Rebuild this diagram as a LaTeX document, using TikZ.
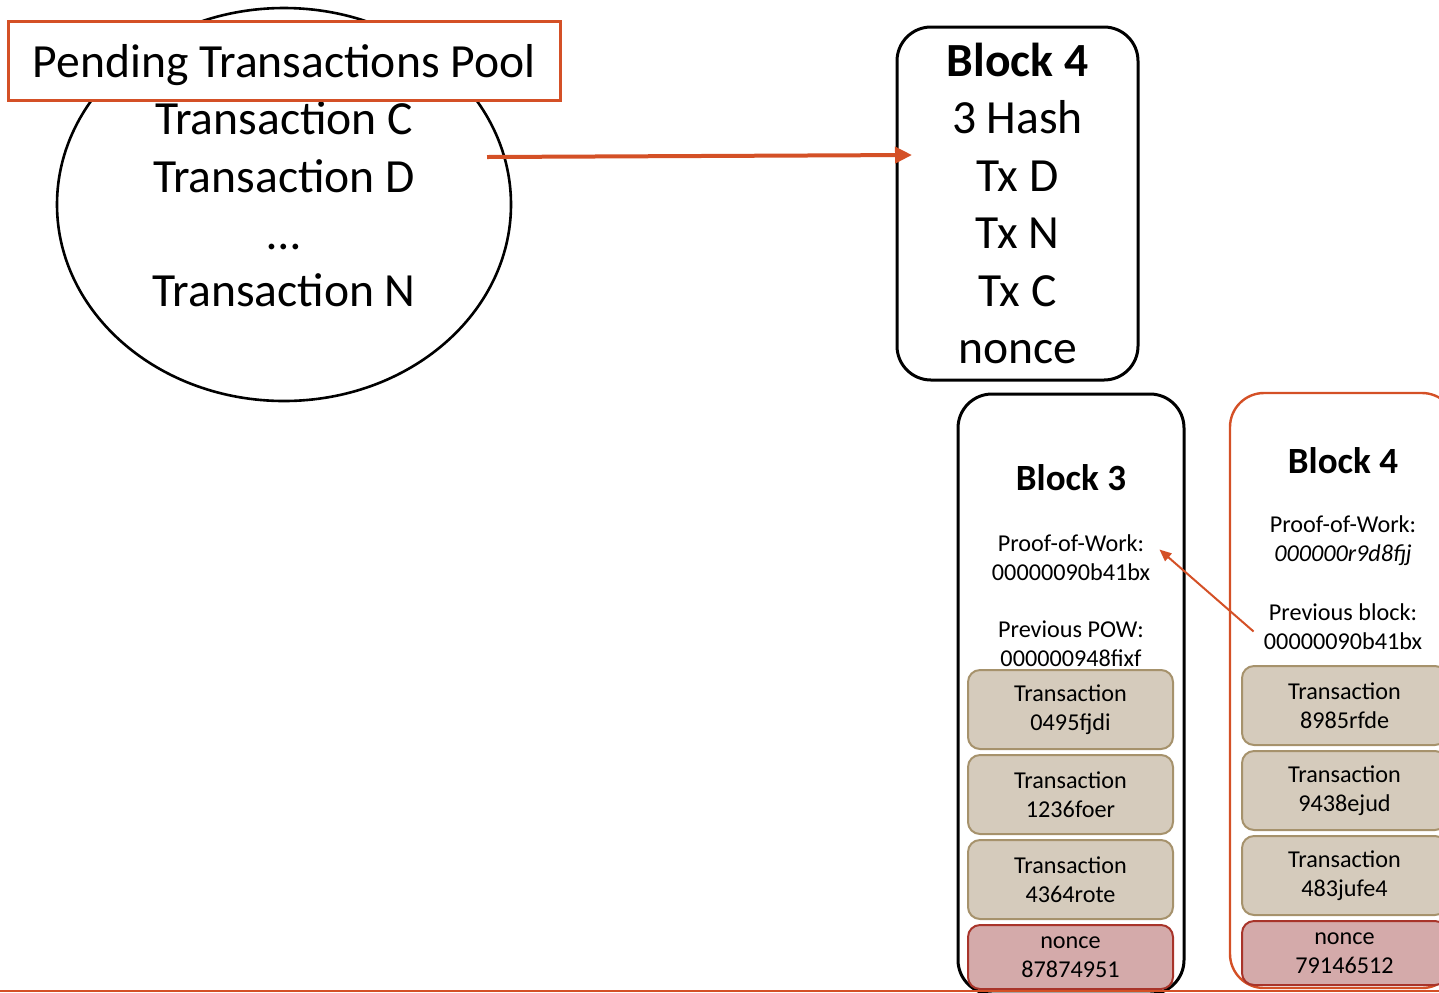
\documentclass[tikz,border=0pt]{standalone}
\usepackage{fontspec}
\setmainfont{Carlito}
\usetikzlibrary{positioning,arrows.meta,shapes.geometric}
\definecolor{accent}{RGB}{212,80,38}
\definecolor{txfill}{RGB}{213,203,188}
\definecolor{txline}{RGB}{166,146,108}
\definecolor{noncefill}{RGB}{212,170,170}
\definecolor{nonceline}{RGB}{168,52,42}

\begin{document}
\begin{tikzpicture}[
    x=0.5pt, y=-0.5pt,
    big/.style={font=\fontsize{23.8}{28.7}\selectfont, align=center},
    small/.style={font=\fontsize{12.1}{14.5}\selectfont, align=center, inner sep=1pt},
    title/.style={font=\bfseries\fontsize{18.5}{22}\selectfont},
    blockbox/.style={draw, line width=1.5pt, rounded corners=17pt, minimum width=113pt},
    txbox/.style={draw=txline, fill=txfill, line width=1pt, rounded corners=6pt, minimum width=102.5pt, minimum height=39.5pt, small},
    noncebox/.style={txbox, draw=nonceline, fill=noncefill, minimum height=32pt},
    arr/.style={-{Triangle[length=8.5pt,width=8pt]}, accent, line width=2pt},
  ]
  \useasboundingbox (0,0) rectangle (1439,992);

  % pending pool
  \node[ellipse, draw, line width=1.3pt, minimum width=227pt, minimum height=196.5pt, inner sep=0pt, big] (pool) at (284,204.5)
    {Transaction C\\Transaction D\\\dots\\Transaction N};
  \node[draw=accent, fill=white, line width=1.5pt, minimum width=276pt, minimum height=39.5pt, text height=17pt, text depth=0pt, big] (pending) at (284,60.5)
    {Pending Transactions Pool};

  % block being mined
  \node[blockbox, minimum width=120.5pt, minimum height=176.5pt, big] (newblk) at (1017.5,203.5)
    {\textbf{Block 4}\\3 Hash\\Tx D\\Tx N\\Tx C\\nonce};

  \coordinate (poolout) at (487,157);
  \coordinate (blkin) at (912,155);
  \draw[arr] (poolout) -- (blkin);

  % chain: block 3
  \node[blockbox, minimum height=300pt] (blk3) at (1071,694) {};
  \node[title] (title3) at (1071,478) {Block 3};
  \node[small] (pow3) at (1071,557.5) {Proof-of-Work:\\00000090b41bx};
  \node[small] (prev3) at (1071,643.5) {Previous POW:\\000000948fixf};
  \node[txbox] (tx31) at (1070.5,709.5) {Transaction\\0495fjdi};
  \node[txbox, below=2pt of tx31] (tx32) {Transaction\\1236foer};
  \node[txbox, below=2pt of tx32] (tx33) {Transaction\\4364rote};
  \node[noncebox, below=2pt of tx33] (nonce3) {nonce\\87874951};

  % chain: block 4
  \node[blockbox, draw=accent, line width=1.2pt, minimum height=297.5pt] (blk4) at (1343,690.5) {};
  \node[title] (title4) at (1343,461) {Block 4};
  \node[small] (pow4) at (1343,540.5) {Proof-of-Work:\\\textit{000000r9d8fjj}};
  \node[small] (prev4) at (1343,626.5) {Previous block:\\00000090b41bx};
  \node[txbox] (tx41) at (1344.5,705.5) {Transaction\\8985rfde};
  \node[txbox, below=2pt of tx41] (tx42) {Transaction\\9438ejud};
  \node[txbox, below=2pt of tx42] (tx43) {Transaction\\483jufe4};
  \node[noncebox, below=2pt of tx43] (nonce4) {nonce\\79146512};

  \draw[arr, line width=1pt, -{Triangle[length=6pt,width=5pt]}]
    ([xshift=-4pt,yshift=-2.5pt]prev4.west) -- ([xshift=3.5pt,yshift=4pt]pow3.east);

  \draw[accent, line width=1pt] (0,990.5) -- (1439,990.5);
\end{tikzpicture}
\end{document}
